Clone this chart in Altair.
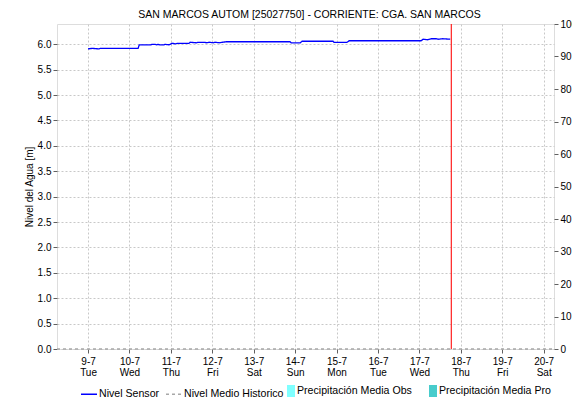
import altair as alt
import pandas as pd

TITLE = "SAN MARCOS AUTOM [25027750] - CORRIENTE: CGA. SAN MARCOS"
FONT = "Liberation Sans"

level_times = [
    "2024-07-09T00:00:00Z", "2024-07-09T02:20:00Z", "2024-07-09T06:20:00Z", "2024-07-09T07:00:00Z",
    "2024-07-10T05:00:00Z", "2024-07-10T05:40:00Z", "2024-07-10T12:30:00Z", "2024-07-10T13:00:00Z",
    "2024-07-10T15:00:00Z", "2024-07-10T15:30:00Z", "2024-07-10T16:40:00Z", "2024-07-10T17:40:00Z",
    "2024-07-10T20:00:00Z", "2024-07-10T20:40:00Z", "2024-07-10T23:00:00Z", "2024-07-11T00:40:00Z",
    "2024-07-11T02:30:00Z", "2024-07-11T03:40:00Z", "2024-07-11T10:30:00Z", "2024-07-11T11:10:00Z",
    "2024-07-11T14:40:00Z", "2024-07-11T15:40:00Z", "2024-07-11T19:50:00Z", "2024-07-11T20:30:00Z",
    "2024-07-11T22:10:00Z", "2024-07-12T00:30:00Z", "2024-07-12T01:40:00Z", "2024-07-12T04:00:00Z",
    "2024-07-12T05:40:00Z", "2024-07-12T08:00:00Z", "2024-07-13T21:00:00Z", "2024-07-13T21:40:00Z",
    "2024-07-14T03:00:00Z", "2024-07-14T04:00:00Z", "2024-07-14T22:00:00Z", "2024-07-14T22:30:00Z",
    "2024-07-15T06:00:00Z", "2024-07-15T07:20:00Z", "2024-07-17T01:00:00Z", "2024-07-17T02:10:00Z",
    "2024-07-17T04:30:00Z", "2024-07-17T06:50:00Z", "2024-07-17T09:40:00Z", "2024-07-17T10:50:00Z",
    "2024-07-17T13:40:00Z", "2024-07-17T17:50:00Z",
]
level_values = [
    5.91, 5.92, 5.91, 5.92,
    5.92, 5.99, 5.99, 6.00,
    6.00, 5.99, 6.00, 5.99,
    5.99, 6.00, 5.99, 6.02,
    6.01, 6.02, 6.02, 6.04,
    6.03, 6.04, 6.04, 6.03,
    6.04, 6.03, 6.04, 6.03,
    6.04, 6.05, 6.05, 6.03,
    6.03, 6.06, 6.06, 6.04,
    6.04, 6.07, 6.07, 6.10,
    6.09, 6.11, 6.11, 6.10,
    6.11, 6.10,
]

hist_times = ["2024-07-08T06:00:00Z", "2024-07-20T06:00:00Z"]
hist_values = [0.0, 0.0]

now_time = ["2024-07-17T18:30:00Z"]

precip_series = ["Precipitación Media Obs", "Precipitación Media Pro"]
precip_times = ["2024-07-09T00:00:00Z", "2024-07-09T00:00:00Z"]
precip_values = [0.0, 0.0]

line_series = ["Nivel Sensor", "Nivel Medio Historico"]
line_colors = ["#0000ff", "#a8a8a8"]
precip_colors = ["#80ffff", "#48cccc"]

day_ticks = [9, 10, 11, 12, 13, 14, 15, 16, 17, 18, 19, 20]
y_ticks = [0.0, 0.5, 1.0, 1.5, 2.0, 2.5, 3.0, 3.5, 4.0, 4.5, 5.0, 5.5, 6.0]
y2_ticks = [0, 10, 20, 30, 40, 50, 60, 70, 80, 90, 100]

df_level = pd.DataFrame({"t": level_times, "v": level_values, "serie": line_series[0]})
df_hist = pd.DataFrame({"t": hist_times, "v": hist_values, "serie": line_series[1]})
df_lines = pd.concat([df_level, df_hist], ignore_index=True)
df_now = pd.DataFrame({"t": now_time})
df_precip = pd.DataFrame({"t": precip_times, "p": precip_values, "serie": precip_series})

x_scale = alt.Scale(
    type="utc",
    domain=[alt.DateTime(year=2024, month=7, date=8, hours=6, utc=True),
            alt.DateTime(year=2024, month=7, date=20, hours=6, utc=True)],
    nice=False,
    padding=0,
)
x_axis = alt.Axis(
    values=[alt.DateTime(year=2024, month=7, date=d, utc=True) for d in day_ticks],
    labelExpr="[utcFormat(datum.value, '%-d-%-m'), utcFormat(datum.value, '%a')]",
    title=None, grid=True, gridDash=[2, 2], gridColor="#c8c8c8",
    tickSize=4, tickColor="#606060", domain=False, labelOverlap=False,
    labelFontSize=10, labelLineHeight=11, labelPadding=3, labelColor="black", labelFont=FONT,
)
y_axis = alt.Axis(
    values=y_ticks, format=".1f", title="Nivel del Agua [m]", grid=True, gridDash=[2, 2],
    gridColor="#c8c8c8", tickSize=4, tickColor="#606060", domain=False,
    labelFontSize=10, labelColor="black", labelFont=FONT, labelPadding=2,
    titleFont=FONT, titleFontSize=10, titleFontWeight="normal", titleColor="black", titlePadding=3,
)
y2_axis = alt.Axis(
    values=y2_ticks, orient="right", title=None, grid=False, tickSize=4, tickColor="#606060",
    domain=False, labelFontSize=10, labelColor="black", labelFont=FONT, labelPadding=2,
)

line_legend = alt.Legend(
    title=None, orient="none", legendX=23, legendY=361, direction="horizontal",
    symbolType="stroke", symbolSize=256, symbolStrokeWidth=1.5, labelOffset=1,
    columnPadding=3, labelFont=FONT, labelFontSize=10.6, labelColor="black", padding=0,
)
fill_legend = alt.Legend(
    title=None, orient="none", legendX=228, legendY=361, direction="horizontal",
    symbolType="M-0.667,-1h1.333v2h-1.333z", symbolSize=144, symbolStrokeWidth=0,
    labelOffset=0, columnPadding=15, labelFont=FONT, labelFontSize=10.6, labelColor="black", padding=0,
)

lines = alt.Chart(df_lines).mark_line(strokeWidth=1.3).encode(
    x=alt.X("t:T", scale=x_scale, axis=x_axis),
    y=alt.Y("v:Q", scale=alt.Scale(domain=[0, 6.4], nice=False, zero=True), axis=y_axis),
    color=alt.Color("serie:N", scale=alt.Scale(domain=line_series, range=line_colors), legend=line_legend),
    strokeDash=alt.StrokeDash("serie:N", scale=alt.Scale(domain=line_series, range=[[1, 0], [3, 3]]),
                              legend=line_legend),
)

now_rule = alt.Chart(df_now).mark_rule(color="#ff2020", strokeWidth=1.2).encode(
    x=alt.X("t:T", scale=x_scale, axis=x_axis),
)

precip = alt.Chart(df_precip).mark_bar(size=4).encode(
    x=alt.X("t:T", scale=x_scale, axis=x_axis),
    y=alt.Y("p:Q", scale=alt.Scale(domain=[0, 100], nice=False), axis=y2_axis, stack=None),
    fill=alt.Fill("serie:N", scale=alt.Scale(domain=precip_series, range=precip_colors), legend=fill_legend),
)

chart = alt.layer(alt.layer(lines, now_rule), precip).resolve_scale(y="independent").properties(
    width=497,
    height=325,
    padding={"left": 49, "top": 16, "right": 18, "bottom": 52},
    autosize=alt.AutoSizeParams(type="none"),
    title=alt.TitleParams(TITLE, font=FONT, fontSize=10.5, fontWeight="normal", color="black",
                          anchor="middle", offset=1, dx=4, dy=2),
).configure_view(stroke="#808080", strokeWidth=1).configure(background="white")

chart.save("out.html", embed_options={"renderer": "svg", "actions": False})
